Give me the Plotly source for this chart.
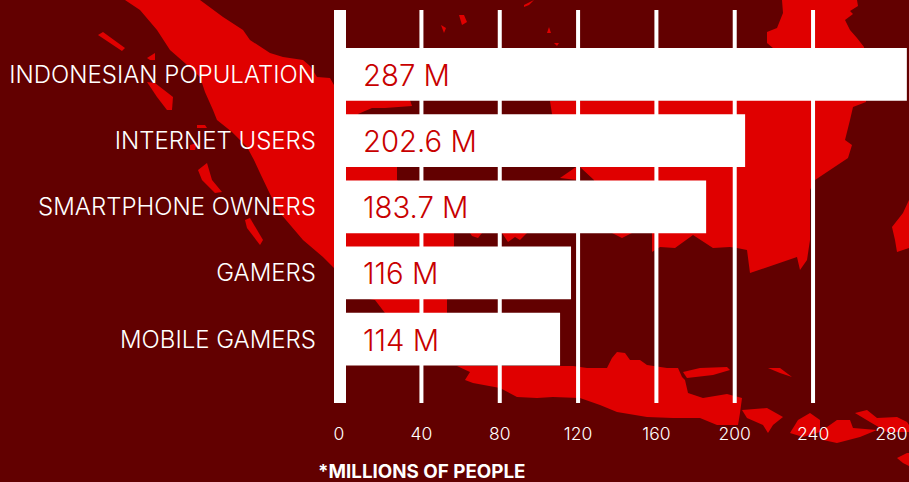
import plotly.graph_objects as go

# ---- data ----
categories = ["INDONESIAN POPULATION", "INTERNET USERS", "SMARTPHONE OWNERS", "GAMERS", "MOBILE GAMERS"]
bar_values = [287.9, 205.3, 185.4, 116.4, 110.8]
value_labels = ["287 M", "202.6 M", "183.7 M", "116 M", "114 M"]
tick_values = [-2.1, 40, 80, 120, 160, 200, 240, 280]
tick_labels = ["0", "40", "80", "120", "160", "200", "240", "280"]
grid_values = [40, 80, 120, 160, 200, 240]
footnote = "*MILLIONS OF PEOPLE"

# ---- page geometry ----
W, H = 909, 482
ML, MR, MT, MB = 324, 0, 10, 79
PW, PH = W - ML - MR, H - MT - MB
BG, RED, LABEL_RED, FONT = "#620000", "#e00000", "#c80000", "Inter"

# ---- decorative background map outlines, in page pixels ----
map_outlines = [
    # Sumatra
    [(125,0),(140,10),(157,30),(170,50),(186,64),(200,77),(205,92),(213,110),(217,120),(232,132),(247,147),(254,160),(260,173),(270,194),(280,213),(303,240),(323,257),(334,268),(346,295),(375,300),(385,313),(430,345),(447,330),(447,313),(447,300),(454,246),(454,233),(397,180),(397,167),(358,114),(372,108),(385,108),(412,106),(410,100),(346,100),(334,85),(330,78),(317,77),(310,66),(303,60),(283,57),(270,53),(250,40),(243,30),(223,17),(200,0)],
    [(470,233),(482,233),(478,238),(472,236)],
    [(502,233),(527,233),(520,240),(515,237),(508,242)],
    # Java, Madura and the eastern islands
    [(457,366),(470,372),(465,380),(473,383),(500,388),(517,397),(537,398),(553,397),(580,398),(600,405),(617,412),(647,417),(673,418),(700,418),(717,425),(738,425),(740,413),(742,398),(727,394),(703,398),(688,393),(685,380),(682,377),(678,368),(667,368),(647,365),(640,360),(630,360),(625,353),(617,352),(612,358),(607,368),(597,368),(587,368),(573,366)],
    [(683,372),(700,368),(727,367),(730,370),(713,375),(687,378)],
    [(742,410),(767,408),(783,417),(773,425),(768,433),(763,425),(747,418)],
    [(798,420),(810,413),(820,420),(820,432),(803,437),(790,433)],
    [(820,432),(837,420),(850,420),(853,428),(877,430),(860,437),(837,443),(823,440)],
    [(855,413),(867,410),(877,418),(897,417),(907,422),(909,425),(909,432),(887,432),(870,422)],
    [(897,458),(907,453),(909,453),(909,466),(903,463)],
    [(768,368),(780,368),(792,377),(780,373)],
    # Borneo
    [(782,0),(783,13),(777,28),(767,32),(767,43),(773,48),(700,100),(550,101),(552,114),(580,167),(594,180),(600,233),(612,233),(622,238),(632,233),(652,233),(652,252),(660,247),(675,248),(693,235),(713,248),(730,247),(737,248),(747,250),(750,273),(797,257),(800,270),(807,260),(810,240),(810,190),(815,180),(830,170),(848,158),(852,145),(845,140),(850,120),(853,107),(866,102),(864,47),(857,38),(850,30),(845,20),(853,14),(850,11),(858,6),(857,0)],
    [(560,178),(576,167),(577,180)],
    # Sulawesi
    [(909,200),(903,213),(892,227),(895,240),(897,252),(909,248)],
    # Western islands
    [(98,35),(103,32),(125,48),(122,51),(110,43)],
    [(147,82),(155,83),(173,97),(172,110),(167,110),(157,97)],
    [(147,58),(155,53),(155,60),(150,60)],
    [(198,170),(207,163),(212,180),(222,192),(215,193),(202,180)],
    [(245,220),(250,218),(263,240),(260,245),(247,228)],
    [(197,125),(205,125),(207,128),(197,128)],
    [(190,145),(197,143),(195,150),(190,150)],
    # Small islets above the bars
    [(459,15),(464,15),(467,22),(462,25)],
    [(441,25),(446,28),(444,33)],
    [(524,5),(534,0),(529,5),(524,7)],
    [(549,27),(551,33),(547,33)],
    [(554,43),(559,43),(557,46)],
]


def px(x):
    return (x - ML) / PW


def py(y):
    return 1 - (y - MT) / PH


def to_path(points):
    return "M " + " L ".join(f"{px(x):.5f},{py(y):.5f}" for x, y in points) + " Z"


shapes = [
    dict(type="path", path=to_path(o), xref="paper", yref="paper",
         fillcolor=RED, line=dict(width=0), layer="below")
    for o in map_outlines
]
# white gridlines (the last tick, 280, has none in the reference)
shapes += [
    dict(type="line", xref="x", yref="paper", x0=v, x1=v, y0=0, y1=1,
         line=dict(color="white", width=4), layer="below")
    for v in grid_values
]
# thick white baseline band
shapes.append(dict(type="rect", xref="paper", yref="paper",
                   x0=px(334), x1=px(346), y0=0, y1=1,
                   fillcolor="white", line=dict(width=0), layer="below"))

fig = go.Figure(go.Bar(
    y=categories, x=bar_values, orientation="h", width=0.797,
    marker=dict(color="white", line=dict(width=0)), hoverinfo="skip",
))

annotations = [
    dict(x=0, y=c, xref="x", yref="y", text=t, showarrow=False, xanchor="left",
         xshift=18, yshift=-1, font=dict(family=FONT, size=29.3, color=LABEL_RED, weight=300))
    for c, t in zip(categories, value_labels)
]
annotations.append(dict(x=px(320), y=py(471), xref="paper", yref="paper", text=f"<b>{footnote}</b>",
                        showarrow=False, xanchor="left", yanchor="middle", borderpad=0,
                        xshift=-3, font=dict(family=FONT, size=18.8, color="white")))

fig.update_layout(
    width=W, height=H, autosize=False,
    margin=dict(l=ML, r=MR, t=MT, b=MB, pad=0),
    paper_bgcolor=BG, plot_bgcolor="rgba(0,0,0,0)",
    showlegend=False, shapes=shapes, annotations=annotations,
    font=dict(family=FONT, color="white"),
    xaxis=dict(
        range=[-9.76, 289.0], tickmode="array", tickvals=tick_values, ticktext=tick_labels,
        showgrid=False, zeroline=False, showline=False,
        ticks="", tickfont=dict(family=FONT, size=17.5, color="white", weight=300), ticklabelstandoff=18,
        fixedrange=True,
    ),
    yaxis=dict(
        range=[4.964, -0.973], type="category", categoryorder="array", categoryarray=categories,
        showgrid=False, zeroline=False, showline=False, ticks="",
        tickfont=dict(family=FONT, size=24, color="white", weight=300), ticklabelstandoff=7,
        fixedrange=True,
    ),
)

fig.write_html("out.html", config=dict(displayModeBar=False, responsive=False),
               post_script="document.body.style.margin='0';document.documentElement.style.background='#620000';")
